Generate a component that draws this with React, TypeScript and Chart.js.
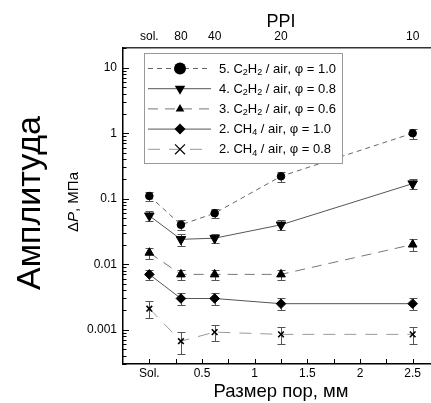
import React, { useEffect, useRef } from 'react';
import { Chart, registerables } from 'chart.js';

Chart.register(...registerables);

// ---------- data ----------
const xValues = [0, 0.3, 0.62, 1.25, 2.5];

const bottomTickValues = [0, 0.5, 1, 1.5, 2, 2.5];
const bottomTickLabels = ['Sol.', '0.5', '1', '1.5', '2', '2.5'];

const topTickValues = [0, 0.3, 0.62, 1.25, 2.5];
const topTickLabels = ['sol.', '80', '40', '20', '10'];

const yTickValues = [0.001, 0.01, 0.1, 1, 10];
const yTickLabels = ['0.001', '0.01', '0.1', '1', '10'];

const c2h2_10 = [0.11, 0.04, 0.06, 0.22, 1.0];
const c2h2_10_err = [0.018, 0.007, 0.01, 0.04, 0.18];

const c2h2_08 = [0.055, 0.024, 0.025, 0.04, 0.17];
const c2h2_08_err = [0.01, 0.005, 0.004, 0.007, 0.03];

const c2h2_06 = [0.015, 0.007, 0.007, 0.007, 0.02];
const c2h2_06_err = [0.003, 0.0012, 0.0012, 0.0012, 0.004];

const ch4_10 = [0.007, 0.003, 0.003, 0.0025, 0.0025];
const ch4_10_err = [0.0012, 0.0006, 0.0006, 0.0005, 0.0005];

const ch4_08 = [0.0021, 0.00067, 0.00092, 0.00085, 0.00085];
const ch4_08_err = [0.0006, 0.00024, 0.00025, 0.00025, 0.00025];

const legendLabels = [
  '5. C_2H_2 / air, φ = 1.0',
  '4. C_2H_2 / air, φ = 0.8',
  '3. C_2H_2 / air, φ = 0.6',
  '2. CH_4 / air, φ = 1.0',
  '2. CH_4 / air, φ = 0.8',
];

const xTitle = 'Размер пор, мм';
const topTitle = 'PPI';
const sideText = 'Амплитуда';

const FONT = "'Liberation Sans', Arial, sans-serif";

type Series = {
  values: number[];
  errors: number[];
  marker: string;
  r: number;
  legendR: number;
  color: string;
  dash: number[];
};

const series: Series[] = [
  { values: c2h2_10, errors: c2h2_10_err, marker: 'circle', r: 3.8, legendR: 6, color: '#666', dash: [5, 4] },
  { values: c2h2_08, errors: c2h2_08_err, marker: 'triDown', r: 5.5, legendR: 6, color: '#555', dash: [] },
  { values: c2h2_06, errors: c2h2_06_err, marker: 'triUp', r: 5, legendR: 5, color: '#777', dash: [10, 7] },
  { values: ch4_10, errors: ch4_10_err, marker: 'diamond', r: 4.8, legendR: 5.5, color: '#555', dash: [] },
  { values: ch4_08, errors: ch4_08_err, marker: 'cross', r: 4, legendR: 7, color: '#999', dash: [12, 9] },
];

const chartPointStyle: Record<string, { style: any; rot: number }> = {
  circle: { style: 'circle', rot: 0 },
  triDown: { style: 'triangle', rot: 180 },
  triUp: { style: 'triangle', rot: 0 },
  diamond: { style: 'rectRot', rot: 0 },
  cross: { style: 'crossRot', rot: 0 },
};

function drawMarker(ctx: CanvasRenderingContext2D, m: string, x: number, y: number, r: number) {
  ctx.beginPath();
  if (m === 'circle') {
    ctx.arc(x, y, r, 0, Math.PI * 2);
    ctx.fill();
  } else if (m === 'triDown') {
    ctx.moveTo(x, y + r);
    ctx.lineTo(x - r * 0.866, y - r / 2);
    ctx.lineTo(x + r * 0.866, y - r / 2);
    ctx.closePath();
    ctx.fill();
  } else if (m === 'triUp') {
    ctx.moveTo(x, y - r);
    ctx.lineTo(x - r * 0.866, y + r / 2);
    ctx.lineTo(x + r * 0.866, y + r / 2);
    ctx.closePath();
    ctx.fill();
  } else if (m === 'diamond') {
    ctx.moveTo(x, y - r);
    ctx.lineTo(x + r, y);
    ctx.lineTo(x, y + r);
    ctx.lineTo(x - r, y);
    ctx.closePath();
    ctx.fill();
  } else if (m === 'cross') {
    const d = r * 0.707;
    ctx.moveTo(x - d, y - d);
    ctx.lineTo(x + d, y + d);
    ctx.moveTo(x - d, y + d);
    ctx.lineTo(x + d, y - d);
    ctx.stroke();
  }
}

// draws text where "_c" makes c a subscript
function drawRich(ctx: CanvasRenderingContext2D, text: string, x: number, y: number, size: number) {
  let cx = x;
  let i = 0;
  while (i < text.length) {
    const ch = text[i];
    if (ch === '_' && i + 1 < text.length) {
      ctx.font = `${Math.round(size * 0.7)}px ${FONT}`;
      ctx.fillText(text[i + 1], cx, y + size * 0.25);
      cx += ctx.measureText(text[i + 1]).width;
      i += 2;
    } else {
      ctx.font = `${size}px ${FONT}`;
      ctx.fillText(ch, cx, y);
      cx += ctx.measureText(ch).width;
      i += 1;
    }
  }
}

const errorBarPlugin = {
  id: 'errorBars',
  beforeDatasetsDraw(chart: any) {
    const { ctx, chartArea } = chart;
    const xs = chart.scales.x;
    const ys = chart.scales.y;
    ctx.save();
    ctx.beginPath();
    ctx.rect(chartArea.left, chartArea.top, chartArea.right - chartArea.left, chartArea.bottom - chartArea.top);
    ctx.clip();
    ctx.strokeStyle = '#555';
    ctx.lineWidth = 1;
    series.forEach((s) => {
      s.values.forEach((v, i) => {
        const px = Math.round(xs.getPixelForValue(xValues[i])) + 0.5;
        const top = Math.round(ys.getPixelForValue(v + s.errors[i])) + 0.5;
        const bot = Math.round(ys.getPixelForValue(v - s.errors[i])) + 0.5;
        ctx.beginPath();
        ctx.moveTo(px, top);
        ctx.lineTo(px, bot);
        ctx.moveTo(px - 4, top);
        ctx.lineTo(px + 4, top);
        ctx.moveTo(px - 4, bot);
        ctx.lineTo(px + 4, bot);
        ctx.stroke();
      });
    });
    ctx.restore();
  },
};

const decorPlugin = {
  id: 'decor',
  afterDraw(chart: any) {
    const { ctx, chartArea } = chart;
    const xs = chart.scales.x;
    const ys = chart.scales.y;
    ctx.save();

    // inner ticks on left axis
    ctx.strokeStyle = '#000';
    ctx.lineWidth = 1;
    const left = chartArea.left;
    for (let d = -4; d <= 1; d++) {
      for (let m = 1; m <= 9; m++) {
        const v = m * Math.pow(10, d);
        if (v < ys.min || v > ys.max) continue;
        const py = Math.round(ys.getPixelForValue(v)) + 0.5;
        const len = m === 1 ? 6 : 3.5;
        ctx.beginPath();
        ctx.moveTo(left, py);
        ctx.lineTo(left + len, py);
        ctx.stroke();
      }
    }
    // inner ticks on bottom axis
    const bottom = chartArea.bottom;
    for (let k = 0; k <= 11; k++) {
      const v = k * 0.25;
      const px = Math.round(xs.getPixelForValue(v)) + 0.5;
      ctx.beginPath();
      ctx.moveTo(px, bottom);
      ctx.lineTo(px, bottom - 5);
      ctx.stroke();
    }

    // legend
    const bx = 144.5, by = 53.5, bw = 198, bh = 110;
    ctx.fillStyle = '#fff';
    ctx.fillRect(bx, by, bw, bh);
    ctx.strokeStyle = '#999';
    ctx.lineWidth = 1;
    ctx.strokeRect(bx, by, bw, bh);
    series.forEach((s, i) => {
      const ry = 68.5 + i * 20.2;
      ctx.strokeStyle = s.color;
      ctx.lineWidth = 1;
      ctx.setLineDash(s.dash);
      ctx.beginPath();
      ctx.moveTo(148, ry);
      ctx.lineTo(211, ry);
      ctx.stroke();
      ctx.setLineDash([]);
      ctx.fillStyle = '#000';
      ctx.strokeStyle = '#000';
      ctx.lineWidth = 1.2;
      drawMarker(ctx, s.marker, 180, ry, s.legendR);
      ctx.fillStyle = '#000';
      ctx.textBaseline = 'middle';
      ctx.textAlign = 'left';
      drawRich(ctx, legendLabels[i], 219, ry + 0.5, 13);
    });

    // y axis title: ΔP, МПа (P italic)
    ctx.save();
    ctx.translate(74, (chartArea.top + chartArea.bottom) / 2 - 4);
    ctx.rotate(-Math.PI / 2);
    ctx.fillStyle = '#000';
    ctx.textBaseline = 'middle';
    ctx.textAlign = 'left';
    const parts: [string, string][] = [['Δ', `15px ${FONT}`], ['P', `italic 15px ${FONT}`], [', МПа', `15px ${FONT}`]];
    let tw = 0;
    parts.forEach(([t, f]) => { ctx.font = f; tw += ctx.measureText(t).width; });
    let cx = -tw / 2;
    parts.forEach(([t, f]) => { ctx.font = f; ctx.fillText(t, cx, 0); cx += ctx.measureText(t).width; });
    ctx.restore();

    // side label
    ctx.save();
    ctx.translate(31, 203);
    ctx.rotate(-Math.PI / 2);
    ctx.fillStyle = '#000';
    ctx.textBaseline = 'middle';
    ctx.textAlign = 'center';
    ctx.font = `34px ${FONT}`;
    ctx.fillText(sideText, 0, 0);
    ctx.restore();

    ctx.restore();
  },
};

export default function App() {
  const ref = useRef<HTMLCanvasElement | null>(null);

  useEffect(() => {
    if (!ref.current) return;
    Chart.defaults.font.family = FONT;
    Chart.defaults.color = '#000';
    const datasets = series.map((s, i) => ({
      label: legendLabels[i],
      data: s.values.map((v, j) => ({ x: xValues[j], y: v })),
      borderColor: s.color,
      borderWidth: 1,
      borderDash: s.dash,
      backgroundColor: '#000',
      pointBackgroundColor: '#000',
      pointBorderColor: '#000',
      pointBorderWidth: s.marker === 'cross' ? 1.6 : 1,
      pointStyle: chartPointStyle[s.marker].style,
      pointRotation: chartPointStyle[s.marker].rot,
      pointRadius: s.r,
      tension: 0,
      fill: false,
    }));

    const chart = new Chart(ref.current, {
      type: 'line',
      data: { datasets },
      options: {
        responsive: false,
        animation: false,
        devicePixelRatio: 1,
        layout: { padding: 0, autoPadding: false },
        plugins: { legend: { display: false }, tooltip: { enabled: false } },
        scales: {
          x: {
            type: 'linear',
            position: 'bottom',
            min: -0.25,
            max: 2.75,
            afterBuildTicks: (s: any) => { s.ticks = bottomTickValues.map((v) => ({ value: v })); },
            afterFit: (s: any) => { s.height = 39; },
            ticks: {
              autoSkip: false,
              maxRotation: 0,
              padding: 2,
              color: '#000',
              font: { size: 12 },
              callback: (_v: any, i: number) => bottomTickLabels[i],
            },
            grid: { display: false, drawTicks: false },
            border: { display: true, color: '#000', width: 1.5 },
            title: { display: true, text: xTitle, color: '#000', font: { size: 18.5 }, padding: { top: 0, bottom: 0 } },
          },
          x2: {
            type: 'linear',
            position: 'top',
            min: -0.25,
            max: 2.75,
            afterBuildTicks: (s: any) => { s.ticks = topTickValues.map((v) => ({ value: v })); },
            afterFit: (s: any) => { s.height = 48; },
            ticks: {
              autoSkip: false,
              maxRotation: 0,
              padding: 4,
              color: '#000',
              font: { size: 12 },
              callback: (_v: any, i: number) => topTickLabels[i],
            },
            grid: { display: false, drawTicks: false },
            border: { display: true, color: '#333', width: 1.5 },
            title: { display: true, text: topTitle, color: '#000', font: { size: 18 }, padding: { top: 11, bottom: 0 } },
          },
          y: {
            type: 'logarithmic',
            position: 'left',
            min: 0.000316,
            max: 20,
            afterBuildTicks: (s: any) => { s.ticks = yTickValues.map((v) => ({ value: v })); },
            afterFit: (s: any) => { s.width = 123; },
            ticks: {
              autoSkip: false,
              padding: 6,
              color: '#000',
              font: { size: 12 },
              callback: (_v: any, i: number) => yTickLabels[i],
            },
            grid: { display: false, drawTicks: false },
            border: { display: true, color: '#000', width: 1.5 },
          },
        },
      },
      plugins: [errorBarPlugin, decorPlugin],
    } as any);

    return () => chart.destroy();
  }, []);

  return (
    <div style={{ position: 'absolute', left: 0, top: 0, width: 431, height: 403, overflow: 'hidden', background: '#fff' }}>
      <canvas ref={ref} width={439} height={403} style={{ display: 'block' }} />
    </div>
  );
}
